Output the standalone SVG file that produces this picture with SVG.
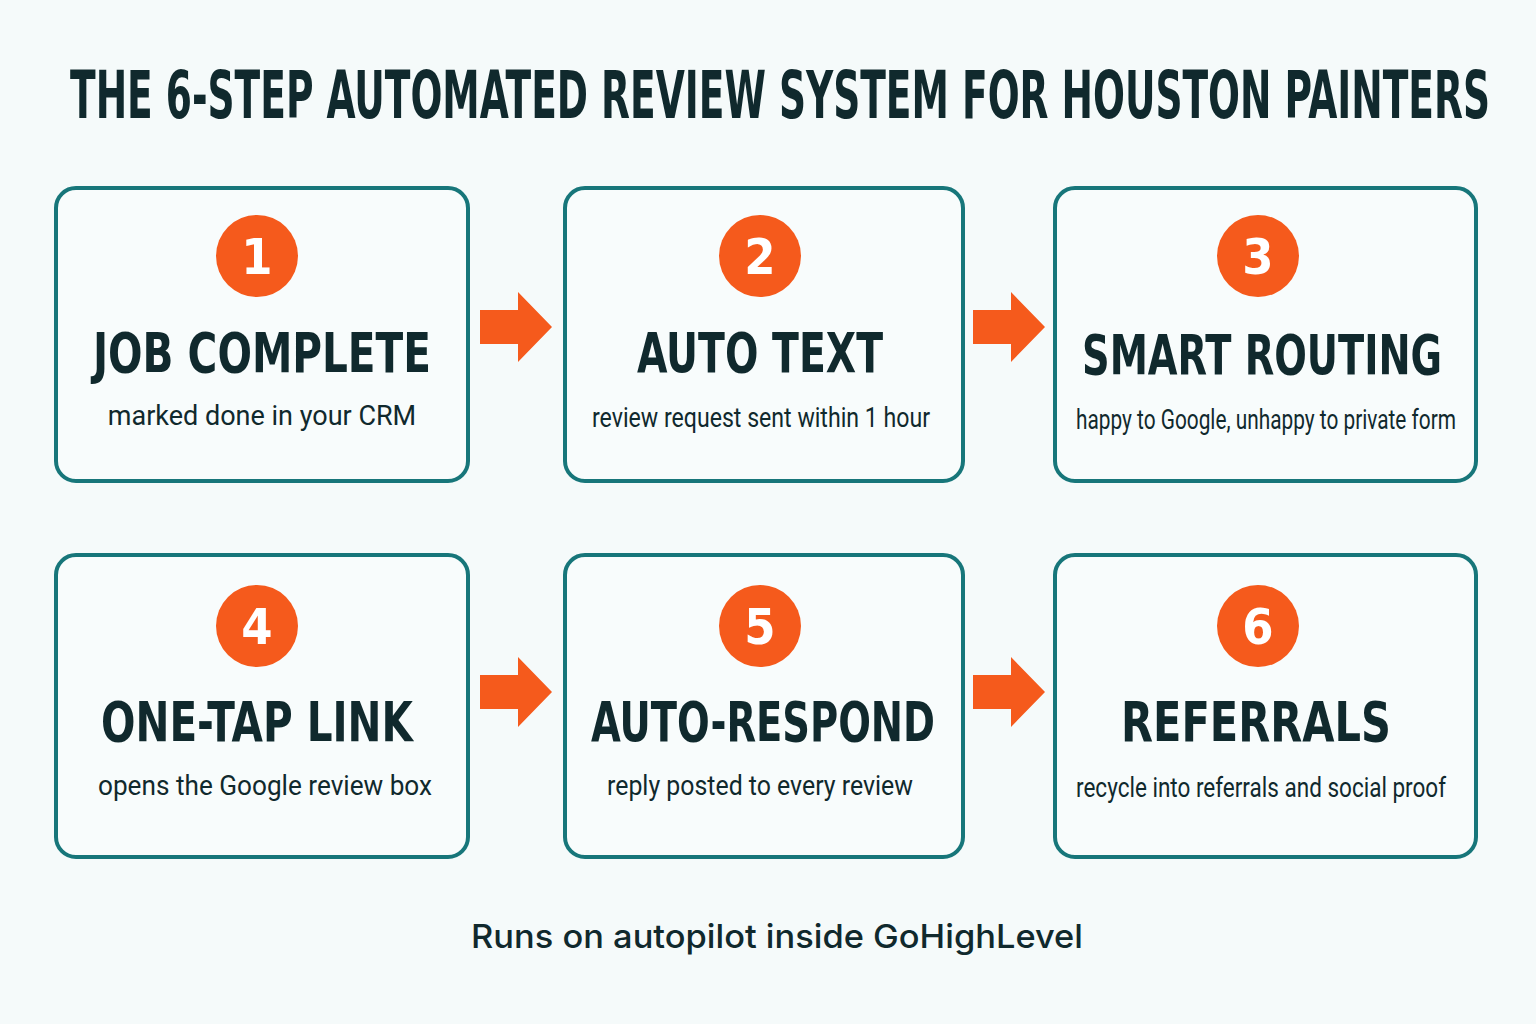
<svg xmlns="http://www.w3.org/2000/svg" width="1536" height="1024" viewBox="0 0 1536 1024">
<defs>
<style>
.box{fill:#f8fcfc;stroke:#17767a;stroke-width:4}
.num{fill:#f55a1c}
.nt{fill:#fff;font-family:"DejaVu Sans Condensed","DejaVu Sans",sans-serif;font-weight:bold;font-size:50px;text-anchor:middle}
.h{fill:#10292d;font-family:"DejaVu Sans Condensed","DejaVu Sans",sans-serif;font-weight:bold;font-size:56px;text-anchor:middle}
.s{fill:#10292d;font-family:"Roboto","Liberation Sans",sans-serif;font-size:27px;text-anchor:middle}
.arr{fill:#f55a1c}
</style>
<path id="a" d="M0,-17 H38 V-35 L72,0 L38,35 V17 H0 Z"/>
</defs>
<rect width="1536" height="1024" fill="#f5fafa"/>
<text x="780" y="118" textLength="1420" lengthAdjust="spacingAndGlyphs" style="fill:#10292d;font-family:'DejaVu Sans Condensed','DejaVu Sans',sans-serif;font-weight:bold;font-size:66px;text-anchor:middle">THE 6-STEP AUTOMATED REVIEW SYSTEM FOR HOUSTON PAINTERS</text>
<g id="n1"><rect class="box" x="56" y="188" width="412" height="293" rx="20"/><circle class="num" cx="257" cy="256" r="41"/><text class="nt" x="257" y="274">1</text><text class="h" x="262" y="372" textLength="338" lengthAdjust="spacingAndGlyphs">JOB COMPLETE</text><text class="s" x="262" y="425">marked done in your CRM</text></g>
<g id="n2"><rect class="box" x="565" y="188" width="398" height="293" rx="20"/><circle class="num" cx="760" cy="256" r="41"/><text class="nt" x="760" y="274">2</text><text class="h" x="760" y="372" textLength="246" lengthAdjust="spacingAndGlyphs">AUTO TEXT</text><text class="s" x="761" y="427" textLength="338" lengthAdjust="spacingAndGlyphs">review request sent within 1 hour</text></g>
<g id="n3"><rect class="box" x="1055" y="188" width="421" height="293" rx="20"/><circle class="num" cx="1258" cy="256" r="41"/><text class="nt" x="1258" y="274">3</text><text class="h" x="1262" y="374" textLength="360" lengthAdjust="spacingAndGlyphs">SMART ROUTING</text><text class="s" x="1266" y="429" textLength="380" lengthAdjust="spacingAndGlyphs">happy to Google, unhappy to private form</text></g>
<g id="n4"><rect class="box" x="56" y="555" width="412" height="302" rx="20"/><circle class="num" cx="257" cy="626" r="41"/><text class="nt" x="257" y="644">4</text><text class="h" x="257" y="741" textLength="312" lengthAdjust="spacingAndGlyphs">ONE-TAP LINK</text><text class="s" x="265" y="795" textLength="334" lengthAdjust="spacingAndGlyphs">opens the Google review box</text></g>
<g id="n5"><rect class="box" x="565" y="555" width="398" height="302" rx="20"/><circle class="num" cx="760" cy="626" r="41"/><text class="nt" x="760" y="644">5</text><text class="h" x="763" y="741" textLength="344" lengthAdjust="spacingAndGlyphs">AUTO-RESPOND</text><text class="s" x="760" y="795" textLength="306" lengthAdjust="spacingAndGlyphs">reply posted to every review</text></g>
<g id="n6"><rect class="box" x="1055" y="555" width="421" height="302" rx="20"/><circle class="num" cx="1258" cy="626" r="41"/><text class="nt" x="1258" y="644">6</text><text class="h" x="1256" y="741" textLength="270" lengthAdjust="spacingAndGlyphs">REFERRALS</text><text class="s" x="1261" y="797" textLength="370" lengthAdjust="spacingAndGlyphs">recycle into referrals and social proof</text></g>
<g id="connectors">
<use href="#a" class="arr" x="480" y="327"/>
<use href="#a" class="arr" x="973" y="327"/>
<use href="#a" class="arr" x="480" y="692"/>
<use href="#a" class="arr" x="973" y="692"/>
</g>
<text x="777" y="948" style="fill:#10292d;font-family:'Inter','Liberation Sans',sans-serif;font-size:33px;font-weight:500;text-anchor:middle" textLength="612" lengthAdjust="spacingAndGlyphs">Runs on autopilot inside GoHighLevel</text>
</svg>
